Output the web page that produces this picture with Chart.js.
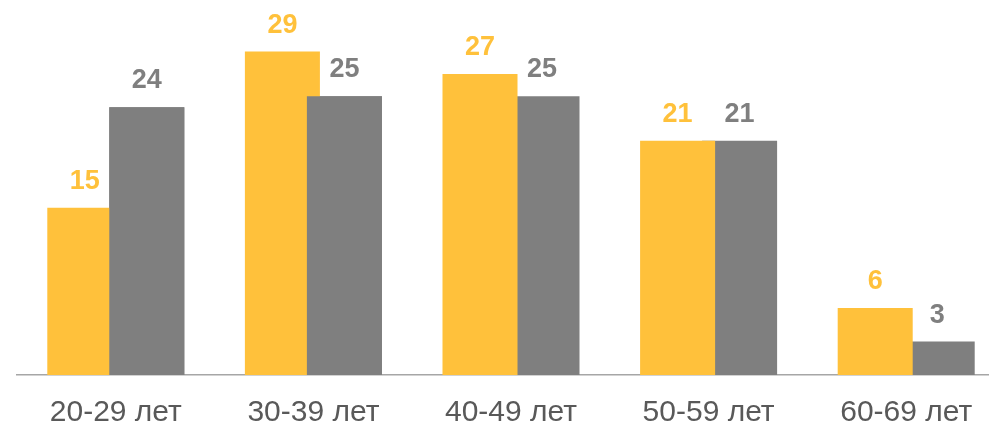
<!DOCTYPE html>
<html>
<head>
<meta charset="utf-8">
<script src="https://cdn.jsdelivr.net/npm/chart.js@4.4.0/dist/chart.umd.min.js"></script>
<style>
    html, body { margin: 0; padding: 0; background: #fff; overflow: hidden; }
    #wrap { width: 1006px; height: 424px; }
</style>
</head>
<body>
<div id="wrap"><canvas id="age-chart"></canvas></div>
<script>
const categories = ['20-29 лет', '30-39 лет', '40-49 лет', '50-59 лет', '60-69 лет'];
const yellowValues = [15, 29, 27, 21, 6];
const grayValues = [24, 25, 25, 21, 3];
// categories where the gray bar is painted over the yellow one
const grayOnTop = [0, 1];

const YELLOW = '#FFC13B';
const GRAY = '#7F7F7F';

// value labels above the bars + layering fix
const barLabels = {
    id: 'barLabels',
    afterDatasetsDraw(chart) {
        const ctx = chart.ctx;
        const grayMeta = chart.getDatasetMeta(1);
        grayOnTop.forEach(i => grayMeta.data[i].draw(ctx));

        ctx.save();
        ctx.font = 'bold 27px "Liberation Sans", Arial, sans-serif';
        ctx.textAlign = 'center';
        ctx.textBaseline = 'alphabetic';
        chart.data.datasets.forEach((ds, di) => {
            const meta = chart.getDatasetMeta(di);
            ctx.fillStyle = ds.backgroundColor;
            meta.data.forEach((bar, i) => {
                ctx.fillText(ds.data[i], bar.x, bar.y - 19);
            });
        });
        ctx.restore();
    }
};

const ctx = document.getElementById('age-chart').getContext('2d');
const chart = new Chart(ctx, {
    type: 'bar',
    data: {
        labels: categories,
        datasets: [
            {
                label: 'Ряд 1',
                data: yellowValues,
                backgroundColor: YELLOW,
                categoryPercentage: 0.6275,
                barPercentage: 1.21
            },
            {
                label: 'Ряд 2',
                data: grayValues,
                backgroundColor: GRAY,
                categoryPercentage: 0.6275,
                barPercentage: 1.21
            }
        ]
    },
    options: {
        responsive: true,
        maintainAspectRatio: false,
        animation: false,
        layout: {
            padding: { top: 7, left: 17, right: 1, bottom: 0 }
        },
        plugins: {
            legend: { display: false },
            tooltip: { enabled: false }
        },
        scales: {
            x: {
                grid: { display: false, drawTicks: false },
                border: { display: true, color: '#A6A6A6', width: 1.5 },
                ticks: {
                    color: '#595959',
                    padding: 20,
                    font: { family: '"Liberation Sans", Arial, sans-serif', size: 30 }
                },
                afterFit(scale) {
                    scale.height = 49;
                }
            },
            y: {
                display: false,
                min: 0,
                max: 33
            }
        }
    },
    plugins: [barLabels]
});
</script>
</body>
</html>
